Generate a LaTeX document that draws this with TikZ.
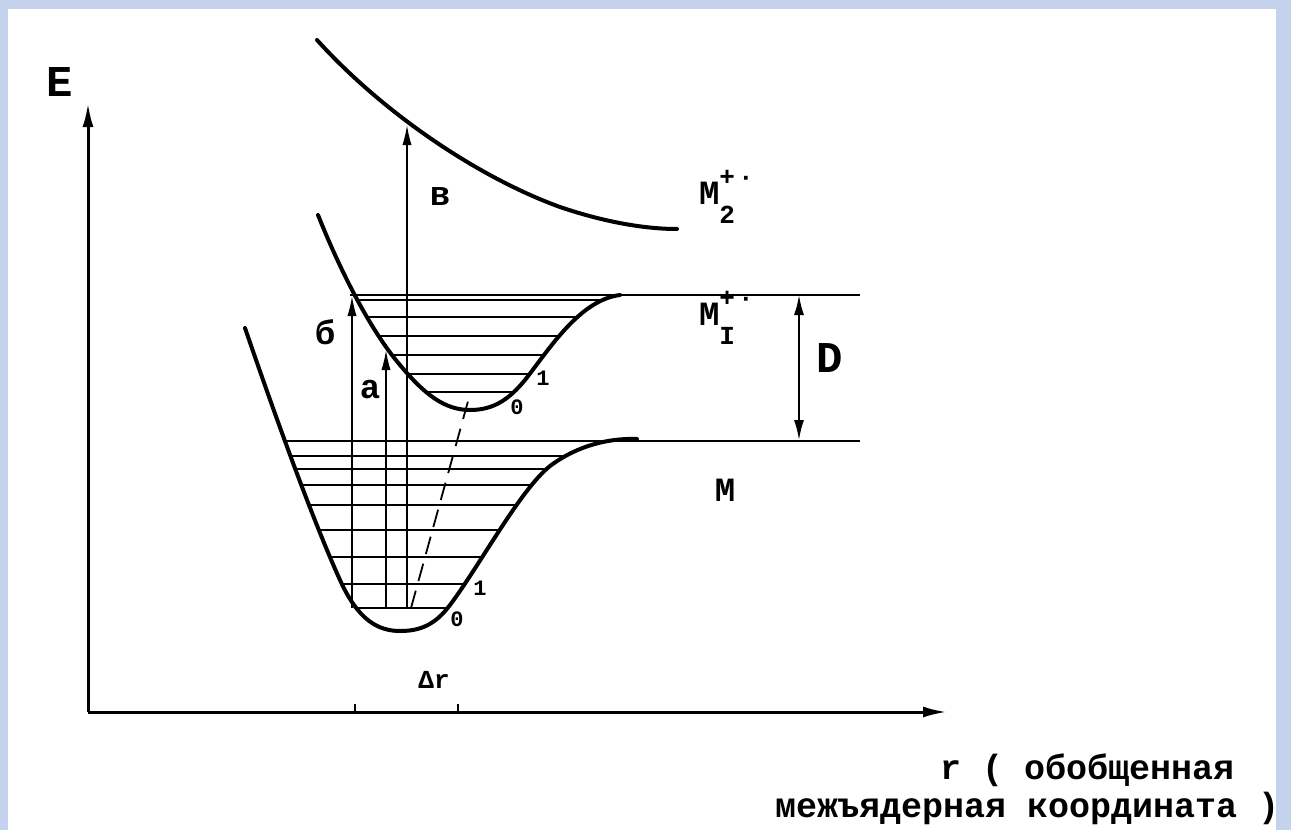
\documentclass[tikz,border=0pt]{standalone}
\usepackage{fontspec}
\setmainfont{Liberation Mono}
\usetikzlibrary{arrows.meta}

\definecolor{frameblue}{RGB}{196,210,238}
\definecolor{framelight}{RGB}{214,225,242}

% ion term label: M with +. above and index below
\newcommand{\ionlabel}[1]{M\rlap{\raisebox{0.55em}{\fontsize{13}{13}\selectfont +\kern1.5pt·}}\raisebox{-0.55em}{\fontsize{13}{13}\selectfont #1}}

\begin{document}
\begin{tikzpicture}[x=0.5pt, y=-0.5pt, font=\bfseries,
    curve/.style={line width=2pt, line cap=round},
    level/.style={line width=0.9pt},
    trans/.style={line width=0.8pt, -{Latex[length=10pt,width=4.6pt]}},
    axis/.style={line width=1.5pt, -{Latex[length=12pt,width=5.5pt]}},
    big/.style={font=\bfseries\fontsize{22}{24}\selectfont},
    mid/.style={font=\bfseries\fontsize{17}{18}\selectfont},
    small/.style={font=\bfseries\fontsize{11}{12}\selectfont}]
        % Frame
        \useasboundingbox (0,0) rectangle (1291,830);
        \shade[left color=frameblue, middle color=framelight, right color=frameblue] (0,0) rectangle (1291,830);
        \fill[white] (8,9) rectangle (1276,830);

        % Axes
        \coordinate (origin) at (88,712);
        \coordinate (ytip) at (88,103);
        \coordinate (xtip) at (947,712);
        \draw[axis] (origin) -- (ytip);
        \draw[axis] (origin) -- (xtip);
        \node[big] (elabel) at (60,82) {E};

        % Ticks for delta r
        \coordinate (tick_l) at (355,712);
        \coordinate (tick_r) at (458,712);
        \draw[line width=1.2pt] (tick_l) -- ++(0,-8);
        \draw[line width=1.2pt] (tick_r) -- ++(0,-8);
        \node[font=\bfseries\fontsize{13}{14}\selectfont] (drlabel) at (434,680) {Δr};

        % Vibrational levels of M (clipped by the well)
        \begin{scope}
          \clip (245,328) .. controls (280,430) and (315,525) .. (340,580)
                .. controls (358,620) and (378,631) .. (400,631)
                .. controls (420,631) and (435,625) .. (450,605)
                .. controls (480,565) and (520,490) .. (550,466)
                .. controls (578,445) and (610,438) .. (637,439) -- cycle;
          \foreach \yy in {456,469,485,505,530,557,584,608}
            \draw[level] (200,\yy) -- (700,\yy);
        \end{scope}

        % Vibrational levels of M1+ (clipped by the well)
        \begin{scope}
          \clip (318,215) .. controls (340,270) and (370,330) .. (400,365)
                .. controls (425,395) and (445,410) .. (470,410)
                .. controls (495,410) and (510,398) .. (525,380)
                .. controls (550,348) and (580,300) .. (620,295) -- cycle;
          \foreach \yy in {300,317,336,355,374,392}
            \draw[level] (300,\yy) -- (700,\yy);
        \end{scope}

        % Dissociation levels
        \coordinate (m_left) at (285,441);
        \coordinate (m_right) at (860,441);
        \coordinate (m1_left) at (350,295);
        \coordinate (m1_right) at (860,295);
        \draw[level] (m_left) -- (m_right);
        \draw[level] (m1_left) -- (m1_right);

        % Potential curves
        \draw[curve] (245,328) .. controls (280,430) and (315,525) .. (340,580)
                .. controls (358,620) and (378,631) .. (400,631)
                .. controls (420,631) and (435,625) .. (450,605)
                .. controls (480,565) and (520,490) .. (550,466)
                .. controls (578,445) and (610,438) .. (637,439);
        \draw[curve] (318,215) .. controls (340,270) and (370,330) .. (400,365)
                .. controls (425,395) and (445,410) .. (470,410)
                .. controls (495,410) and (510,398) .. (525,380)
                .. controls (550,348) and (580,300) .. (620,295);
        \draw[curve] (317,40) .. controls (385,115) and (480,178) .. (560,207)
                .. controls (610,224) and (650,229) .. (677,229);

        % Transitions
        \coordinate (b_start) at (352,608);
        \coordinate (b_end) at (352,296);
        \coordinate (a_start) at (386,608);
        \coordinate (a_end) at (386,350);
        \coordinate (v_start) at (407,608);
        \coordinate (v_end) at (407,125);
        \coordinate (d_start) at (411,608);
        \coordinate (d_end) at (470,394);
        \draw[trans] (b_start) -- (b_end);
        \draw[trans] (a_start) -- (a_end);
        \draw[trans] (v_start) -- (v_end);
        \draw[line width=0.9pt, dash pattern=on 9pt off 5pt] (d_start) -- (d_end);

        % Dissociation energy
        \coordinate (dis_top) at (799,295);
        \coordinate (dis_bot) at (799,440);
        \draw[line width=0.9pt, {Latex[length=10pt,width=5pt]}-{Latex[length=10pt,width=5pt]}] (dis_top) -- (dis_bot);
        \node[big] (dlabel) at (830,358) {D};

        % Labels
        \node[mid] (blabel) at (325,332) {б};
        \node[mid] (alabel) at (370,390) {а};
        \node[mid] (vlabel) at (440,197) {в};
        \node[mid, anchor=west] (m2label) at (692,197) {\ionlabel{2}};
        \node[mid, anchor=west] (m1label) at (692,318) {\ionlabel{I}};
        \node[mid] (mlabel) at (725,490) {M};
        \node[small] (up_one) at (543,378) {1};
        \node[small] (up_zero) at (517,407) {0};
        \node[small] (low_one) at (480,588) {1};
        \node[small] (low_zero) at (457,619) {0};

        % Axis caption
        \node[anchor=west, font=\bfseries\fontsize{17.5}{20}\selectfont] (rcap1) at (933,770) {r ( обобщенная};
        \node[anchor=west, font=\bfseries\fontsize{17.5}{20}\selectfont] (rcap2) at (768,808) {межъядерная координата )};
      \end{tikzpicture}
\end{document}
